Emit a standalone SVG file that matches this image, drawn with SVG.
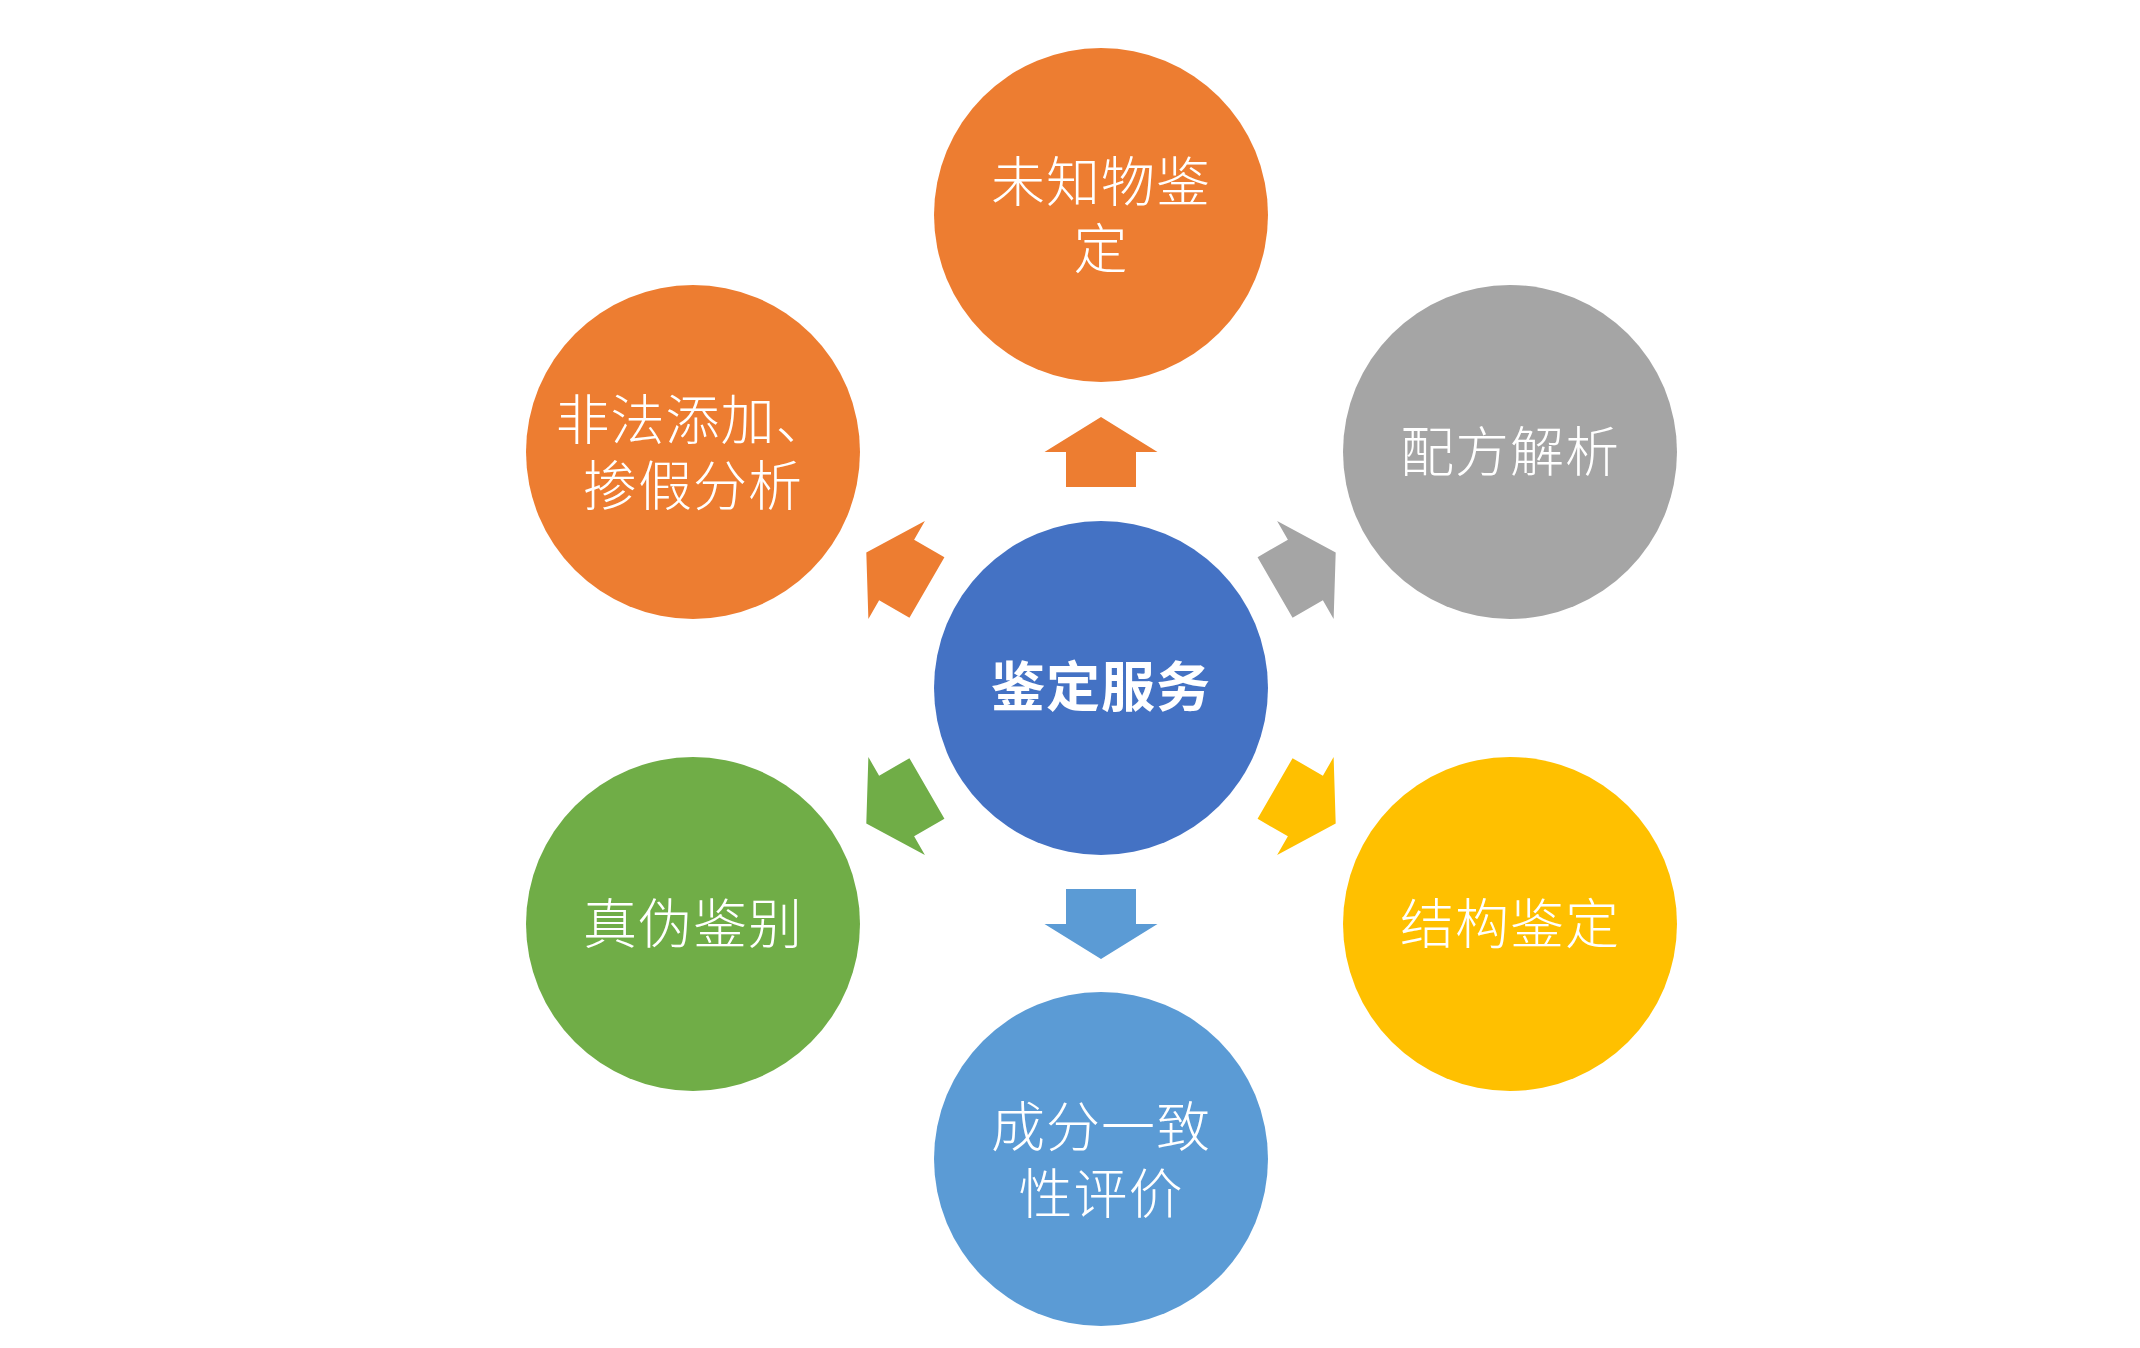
<svg xmlns="http://www.w3.org/2000/svg" xmlns:xlink="http://www.w3.org/1999/xlink" width="2140" height="1348" viewBox="0 0 2140 1348">
  <defs>
    <path id="arr" d="M0,-271 L56.5,-236 L35,-236 L35,-201 L-35,-201 L-35,-236 L-56.5,-236 Z"/>
    <style>
      .lbl { font-family: "Noto Sans CJK SC", "Noto Sans", sans-serif; font-size: 54px; font-weight: 300; fill: #ffffff; text-anchor: middle; dominant-baseline: central; letter-spacing: 1px; }
      .hub { font-weight: 700; }
    </style>
  </defs>
  <rect width="2140" height="1348" fill="#ffffff"/>
  <g id="connectors">
    <use xlink:href="#arr" transform="translate(1101,688)" fill="#ED7D31"/>
    <use xlink:href="#arr" transform="translate(1101,688) rotate(60)" fill="#A5A5A5"/>
    <use xlink:href="#arr" transform="translate(1101,688) rotate(120)" fill="#FFC000"/>
    <use xlink:href="#arr" transform="translate(1101,688) rotate(180)" fill="#5B9BD5"/>
    <use xlink:href="#arr" transform="translate(1101,688) rotate(240)" fill="#70AD47"/>
    <use xlink:href="#arr" transform="translate(1101,688) rotate(300)" fill="#ED7D31"/>
  </g>
  <g id="hub">
    <circle cx="1101" cy="688" r="167" fill="#4472C4"/>
    <text class="lbl hub" x="1101" y="683">鉴定服务</text>
  </g>
  <g id="node-top">
    <circle cx="1101" cy="215" r="167" fill="#ED7D31"/>
    <text class="lbl" x="1101" y="178">未知物鉴<tspan x="1101" dy="67">定</tspan></text>
  </g>
  <g id="node-top-right">
    <circle cx="1510" cy="452" r="167" fill="#A5A5A5"/>
    <text class="lbl" x="1510" y="448">配方解析</text>
  </g>
  <g id="node-bottom-right">
    <circle cx="1510" cy="924" r="167" fill="#FFC000"/>
    <text class="lbl" x="1510" y="920">结构鉴定</text>
  </g>
  <g id="node-bottom">
    <circle cx="1101" cy="1159" r="167" fill="#5B9BD5"/>
    <text class="lbl" x="1101" y="1123">成分一致<tspan x="1101" dy="67">性评价</tspan></text>
  </g>
  <g id="node-bottom-left">
    <circle cx="693" cy="924" r="167" fill="#70AD47"/>
    <text class="lbl" x="693" y="920">真伪鉴别</text>
  </g>
  <g id="node-top-left">
    <circle cx="693" cy="452" r="167" fill="#ED7D31"/>
    <text class="lbl" x="693" y="416">非法添加、<tspan x="693" dy="66">掺假分析</tspan></text>
  </g>
</svg>
